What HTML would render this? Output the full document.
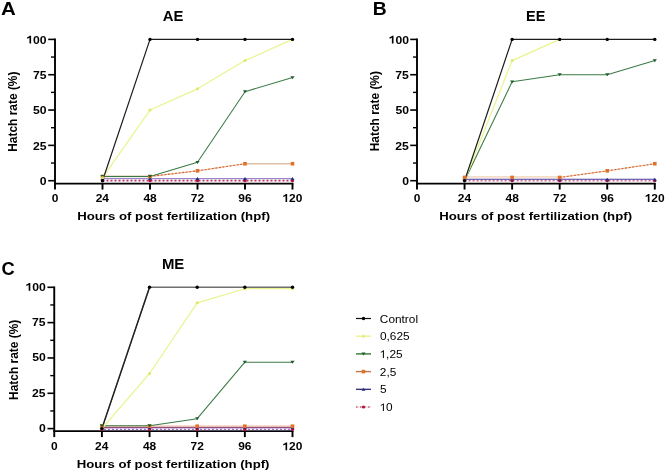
<!DOCTYPE html>
<html><head><meta charset="utf-8"><style>
html,body{margin:0;padding:0;background:#fff;}
body{width:666px;height:472px;overflow:hidden;}
svg{display:block;will-change:transform;filter:blur(0.35px);font-family:"Liberation Sans",sans-serif;}
</style></head><body>
<svg width="666" height="472" viewBox="0 0 666 472">
<rect width="666" height="472" fill="#fff"/>
<line x1="55.00" y1="38.60" x2="55.00" y2="189.55" stroke="#000" stroke-width="1.9" />
<line x1="54.05" y1="183.55" x2="293.45" y2="183.55" stroke="#000" stroke-width="1.65" />
<line x1="102.50" y1="183.55" x2="102.50" y2="189.55" stroke="#000" stroke-width="1.9" />
<line x1="150.00" y1="183.55" x2="150.00" y2="189.55" stroke="#000" stroke-width="1.9" />
<line x1="197.50" y1="183.55" x2="197.50" y2="189.55" stroke="#000" stroke-width="1.9" />
<line x1="245.00" y1="183.55" x2="245.00" y2="189.55" stroke="#000" stroke-width="1.9" />
<line x1="292.50" y1="183.55" x2="292.50" y2="189.55" stroke="#000" stroke-width="1.9" />
<line x1="48.20" y1="180.70" x2="55.00" y2="180.70" stroke="#000" stroke-width="1.6" />
<line x1="48.20" y1="145.38" x2="55.00" y2="145.38" stroke="#000" stroke-width="1.6" />
<line x1="48.20" y1="110.05" x2="55.00" y2="110.05" stroke="#000" stroke-width="1.6" />
<line x1="48.20" y1="74.72" x2="55.00" y2="74.72" stroke="#000" stroke-width="1.6" />
<line x1="48.20" y1="39.40" x2="55.00" y2="39.40" stroke="#000" stroke-width="1.6" />
<line x1="51.00" y1="163.04" x2="55.00" y2="163.04" stroke="#000" stroke-width="1.4" />
<line x1="51.00" y1="127.71" x2="55.00" y2="127.71" stroke="#000" stroke-width="1.4" />
<line x1="51.00" y1="92.39" x2="55.00" y2="92.39" stroke="#000" stroke-width="1.4" />
<line x1="51.00" y1="57.06" x2="55.00" y2="57.06" stroke="#000" stroke-width="1.4" />
<text transform="translate(39.81,184.86) scale(1.06,1)" font-size="11.5" font-weight="bold" fill="#000">0</text>
<text transform="translate(32.89,149.53) scale(1.06,1)" font-size="11.5" font-weight="bold" fill="#000">25</text>
<text transform="translate(33.03,114.21) scale(1.06,1)" font-size="11.5" font-weight="bold" fill="#000">50</text>
<text transform="translate(32.89,78.82) scale(1.06,1)" font-size="11.5" font-weight="bold" fill="#000">75</text>
<g transform="translate(26.25,43.56) scale(1.06,1)" fill="#000"><text font-size="11.5" font-weight="bold"> 00</text><path d="M541,0L815,0L815,1409L593,1409Q530,1250 150,1125L150,877Q380,950 541,1048Z" transform="translate(0.000,0) scale(0.00562,-0.00562)"/></g>
<text transform="translate(51.67,201.89) scale(1.06,1)" font-size="11.3" font-weight="bold" fill="#000">0</text>
<text transform="translate(95.67,201.89) scale(1.06,1)" font-size="11.3" font-weight="bold" fill="#000">24</text>
<text transform="translate(143.42,201.89) scale(1.06,1)" font-size="11.3" font-weight="bold" fill="#000">48</text>
<text transform="translate(190.83,201.89) scale(1.06,1)" font-size="11.3" font-weight="bold" fill="#000">72</text>
<text transform="translate(238.35,201.89) scale(1.06,1)" font-size="11.3" font-weight="bold" fill="#000">96</text>
<g transform="translate(282.38,201.89) scale(1.06,1)" fill="#000"><text font-size="11.3" font-weight="bold"> 20</text><path d="M541,0L815,0L815,1409L593,1409Q530,1250 150,1125L150,877Q380,950 541,1048Z" transform="translate(0.000,0) scale(0.00552,-0.00552)"/></g>
<text transform="translate(0.97,14.50) scale(1.12,1)" font-size="18.3" font-weight="bold" fill="#000">A</text>
<text transform="translate(162.71,21.00) scale(1.02,1)" font-size="14.6" font-weight="bold" fill="#000">AE</text>
<text transform="translate(17.46,151.79) scale(1.09,1) rotate(-90)" font-size="11.95" font-weight="bold">Hatch rate (%)</text>
<text transform="translate(77.18,219.90) scale(1.139,1)" font-size="11.6" font-weight="bold" fill="#000">Hours of post fertilization (hpf)</text>
<polyline points="102.50,180.70 150.00,180.70 197.50,180.70 245.00,180.70 292.50,180.70" fill="none" stroke="#ffffff" stroke-width="1.6" stroke-linejoin="round"/>
<polyline points="102.50,180.70 150.00,180.70 197.50,180.70 245.00,180.70 292.50,180.70" fill="none" stroke="#b83060" stroke-width="1.8" stroke-dasharray="2,2"/>
<polyline points="102.50,178.58 150.00,178.58 197.50,178.58 245.00,178.58 292.50,178.58" fill="none" stroke="#9c86c8" stroke-width="1.3" stroke-linejoin="round"/>
<line x1="102.50" y1="176.46" x2="150.00" y2="176.46" stroke="#dcc0a6" stroke-width="1.7" />
<line x1="150.00" y1="176.46" x2="197.50" y2="170.81" stroke="#f2c4a4" stroke-width="1.2" />
<line x1="150.00" y1="176.46" x2="197.50" y2="170.81" stroke="#cc6636" stroke-width="1.1" stroke-dasharray="2,1.6"/>
<line x1="197.50" y1="170.81" x2="245.00" y2="163.74" stroke="#f2c4a4" stroke-width="1.2" />
<line x1="197.50" y1="170.81" x2="245.00" y2="163.74" stroke="#cc6636" stroke-width="1.1" stroke-dasharray="2,1.6"/>
<line x1="245.00" y1="163.74" x2="292.50" y2="163.74" stroke="#dcc0a6" stroke-width="1.7" />
<polyline points="102.50,176.46 150.00,176.46 197.50,162.33 245.00,91.68 292.50,77.55" fill="none" stroke="#3b7a46" stroke-width="1.05" stroke-linejoin="round"/>
<polyline points="102.50,177.87 150.00,110.05 197.50,88.85 245.00,60.59 292.50,39.40" fill="none" stroke="#eaf48e" stroke-width="1.2" stroke-linejoin="round"/>
<polyline points="102.50,180.70 150.00,39.40 197.50,39.40 245.00,39.40 292.50,39.40" fill="none" stroke="#1c1c1c" stroke-width="1.2" stroke-linejoin="round"/>
<circle cx="102.50" cy="180.70" r="1.6" fill="#b0103a"/>
<circle cx="150.00" cy="180.70" r="1.6" fill="#b0103a"/>
<circle cx="197.50" cy="180.70" r="1.6" fill="#b0103a"/>
<circle cx="245.00" cy="180.70" r="1.6" fill="#b0103a"/>
<circle cx="292.50" cy="180.70" r="1.6" fill="#b0103a"/>
<path d="M100.50,179.98h4l-2,-3z" fill="#2a2a80"/>
<path d="M148.00,179.98h4l-2,-3z" fill="#2a2a80"/>
<path d="M195.50,179.98h4l-2,-3z" fill="#2a2a80"/>
<path d="M243.00,179.98h4l-2,-3z" fill="#2a2a80"/>
<path d="M290.50,179.98h4l-2,-3z" fill="#2a2a80"/>
<rect x="100.70" y="174.66" width="3.6" height="3.6" fill="#e0702a"/>
<rect x="148.20" y="174.66" width="3.6" height="3.6" fill="#e0702a"/>
<rect x="195.70" y="169.01" width="3.6" height="3.6" fill="#e0702a"/>
<rect x="243.20" y="161.94" width="3.6" height="3.6" fill="#e0702a"/>
<rect x="290.70" y="161.94" width="3.6" height="3.6" fill="#e0702a"/>
<path d="M100.40,175.06h4.2l-2.1,3z" fill="#1f5f2a"/>
<path d="M147.90,175.06h4.2l-2.1,3z" fill="#1f5f2a"/>
<path d="M195.40,160.93h4.2l-2.1,3z" fill="#1f5f2a"/>
<path d="M242.90,90.28h4.2l-2.1,3z" fill="#1f5f2a"/>
<path d="M290.40,76.15h4.2l-2.1,3z" fill="#1f5f2a"/>
<circle cx="102.50" cy="177.87" r="1.5" fill="#e0e766"/>
<circle cx="150.00" cy="110.05" r="1.5" fill="#e0e766"/>
<circle cx="197.50" cy="88.85" r="1.5" fill="#e0e766"/>
<circle cx="245.00" cy="60.59" r="1.5" fill="#e0e766"/>
<circle cx="292.50" cy="39.40" r="1.5" fill="#e0e766"/>
<circle cx="102.50" cy="180.70" r="1.7" fill="#000"/>
<circle cx="150.00" cy="39.40" r="1.7" fill="#000"/>
<circle cx="197.50" cy="39.40" r="1.7" fill="#000"/>
<circle cx="245.00" cy="39.40" r="1.7" fill="#000"/>
<circle cx="292.50" cy="39.40" r="1.7" fill="#000"/>
<line x1="417.00" y1="38.60" x2="417.00" y2="189.55" stroke="#000" stroke-width="1.9" />
<line x1="416.05" y1="183.55" x2="655.75" y2="183.55" stroke="#000" stroke-width="1.65" />
<line x1="464.56" y1="183.55" x2="464.56" y2="189.55" stroke="#000" stroke-width="1.9" />
<line x1="512.12" y1="183.55" x2="512.12" y2="189.55" stroke="#000" stroke-width="1.9" />
<line x1="559.68" y1="183.55" x2="559.68" y2="189.55" stroke="#000" stroke-width="1.9" />
<line x1="607.24" y1="183.55" x2="607.24" y2="189.55" stroke="#000" stroke-width="1.9" />
<line x1="654.80" y1="183.55" x2="654.80" y2="189.55" stroke="#000" stroke-width="1.9" />
<line x1="410.20" y1="180.70" x2="417.00" y2="180.70" stroke="#000" stroke-width="1.6" />
<line x1="410.20" y1="145.38" x2="417.00" y2="145.38" stroke="#000" stroke-width="1.6" />
<line x1="410.20" y1="110.05" x2="417.00" y2="110.05" stroke="#000" stroke-width="1.6" />
<line x1="410.20" y1="74.72" x2="417.00" y2="74.72" stroke="#000" stroke-width="1.6" />
<line x1="410.20" y1="39.40" x2="417.00" y2="39.40" stroke="#000" stroke-width="1.6" />
<line x1="413.00" y1="163.04" x2="417.00" y2="163.04" stroke="#000" stroke-width="1.4" />
<line x1="413.00" y1="127.71" x2="417.00" y2="127.71" stroke="#000" stroke-width="1.4" />
<line x1="413.00" y1="92.39" x2="417.00" y2="92.39" stroke="#000" stroke-width="1.4" />
<line x1="413.00" y1="57.06" x2="417.00" y2="57.06" stroke="#000" stroke-width="1.4" />
<text transform="translate(402.21,184.86) scale(1.06,1)" font-size="11.5" font-weight="bold" fill="#000">0</text>
<text transform="translate(395.29,149.53) scale(1.06,1)" font-size="11.5" font-weight="bold" fill="#000">25</text>
<text transform="translate(395.43,114.21) scale(1.06,1)" font-size="11.5" font-weight="bold" fill="#000">50</text>
<text transform="translate(395.29,78.82) scale(1.06,1)" font-size="11.5" font-weight="bold" fill="#000">75</text>
<g transform="translate(388.65,43.56) scale(1.06,1)" fill="#000"><text font-size="11.5" font-weight="bold"> 00</text><path d="M541,0L815,0L815,1409L593,1409Q530,1250 150,1125L150,877Q380,950 541,1048Z" transform="translate(0.000,0) scale(0.00562,-0.00562)"/></g>
<text transform="translate(413.67,201.89) scale(1.06,1)" font-size="11.3" font-weight="bold" fill="#000">0</text>
<text transform="translate(457.73,201.89) scale(1.06,1)" font-size="11.3" font-weight="bold" fill="#000">24</text>
<text transform="translate(505.54,201.89) scale(1.06,1)" font-size="11.3" font-weight="bold" fill="#000">48</text>
<text transform="translate(553.01,201.89) scale(1.06,1)" font-size="11.3" font-weight="bold" fill="#000">72</text>
<text transform="translate(600.59,201.89) scale(1.06,1)" font-size="11.3" font-weight="bold" fill="#000">96</text>
<g transform="translate(644.68,201.89) scale(1.06,1)" fill="#000"><text font-size="11.3" font-weight="bold"> 20</text><path d="M541,0L815,0L815,1409L593,1409Q530,1250 150,1125L150,877Q380,950 541,1048Z" transform="translate(0.000,0) scale(0.00552,-0.00552)"/></g>
<text transform="translate(372.73,14.70) scale(1.055,1)" font-size="18.3" font-weight="bold" fill="#000">B</text>
<text transform="translate(526.05,20.90) scale(0.99,1)" font-size="14.6" font-weight="bold" fill="#000">EE</text>
<text transform="translate(379.46,151.29) scale(1.09,1) rotate(-90)" font-size="11.95" font-weight="bold">Hatch rate (%)</text>
<text transform="translate(439.18,219.90) scale(1.139,1)" font-size="11.6" font-weight="bold" fill="#000">Hours of post fertilization (hpf)</text>
<polyline points="464.56,180.70 512.12,180.70 559.68,180.70 607.24,180.70 654.80,180.70" fill="none" stroke="#ffffff" stroke-width="1.6" stroke-linejoin="round"/>
<polyline points="464.56,180.70 512.12,180.70 559.68,180.70 607.24,180.70 654.80,180.70" fill="none" stroke="#d06a8c" stroke-width="1.8" stroke-dasharray="2,2"/>
<polyline points="464.56,179.29 512.12,179.29 559.68,179.29 607.24,179.29 654.80,179.29" fill="none" stroke="#4a3aa0" stroke-width="1.1" stroke-linejoin="round"/>
<line x1="464.56" y1="176.85" x2="512.12" y2="176.85" stroke="#f6dcc4" stroke-width="1.6" />
<line x1="512.12" y1="176.85" x2="559.68" y2="176.85" stroke="#f6dcc4" stroke-width="1.6" />
<line x1="559.68" y1="177.45" x2="607.24" y2="170.81" stroke="#f2c4a4" stroke-width="1.2" />
<line x1="559.68" y1="177.45" x2="607.24" y2="170.81" stroke="#cc6636" stroke-width="1.1" stroke-dasharray="2,1.6"/>
<line x1="607.24" y1="170.81" x2="654.80" y2="163.74" stroke="#f2c4a4" stroke-width="1.2" />
<line x1="607.24" y1="170.81" x2="654.80" y2="163.74" stroke="#cc6636" stroke-width="1.1" stroke-dasharray="2,1.6"/>
<polyline points="464.56,180.70 512.12,81.79 559.68,74.72 607.24,74.72 654.80,60.59" fill="none" stroke="#3b7a46" stroke-width="1.05" stroke-linejoin="round"/>
<polyline points="464.56,180.70 512.12,60.59 559.68,39.40" fill="none" stroke="#eaf48e" stroke-width="1.2" stroke-linejoin="round"/>
<polyline points="464.56,180.70 512.12,39.40 559.68,39.40 607.24,39.40 654.80,39.40" fill="none" stroke="#1c1c1c" stroke-width="1.2" stroke-linejoin="round"/>
<circle cx="464.56" cy="180.70" r="1.6" fill="#b0103a"/>
<circle cx="512.12" cy="180.70" r="1.6" fill="#b0103a"/>
<circle cx="559.68" cy="180.70" r="1.6" fill="#b0103a"/>
<circle cx="607.24" cy="180.70" r="1.6" fill="#b0103a"/>
<circle cx="654.80" cy="180.70" r="1.6" fill="#b0103a"/>
<path d="M462.56,180.69h4l-2,-3z" fill="#2a2a80"/>
<path d="M510.12,180.69h4l-2,-3z" fill="#2a2a80"/>
<path d="M557.68,180.69h4l-2,-3z" fill="#2a2a80"/>
<path d="M605.24,180.69h4l-2,-3z" fill="#2a2a80"/>
<path d="M652.80,180.69h4l-2,-3z" fill="#2a2a80"/>
<rect x="462.76" y="175.65" width="3.6" height="3.6" fill="#e0702a"/>
<rect x="510.32" y="175.65" width="3.6" height="3.6" fill="#e0702a"/>
<rect x="557.88" y="175.65" width="3.6" height="3.6" fill="#e0702a"/>
<rect x="605.44" y="169.01" width="3.6" height="3.6" fill="#e0702a"/>
<rect x="653.00" y="161.94" width="3.6" height="3.6" fill="#e0702a"/>
<path d="M462.46,179.30h4.2l-2.1,3z" fill="#1f5f2a"/>
<path d="M510.02,80.39h4.2l-2.1,3z" fill="#1f5f2a"/>
<path d="M557.58,73.32h4.2l-2.1,3z" fill="#1f5f2a"/>
<path d="M605.14,73.32h4.2l-2.1,3z" fill="#1f5f2a"/>
<path d="M652.70,59.19h4.2l-2.1,3z" fill="#1f5f2a"/>
<circle cx="464.56" cy="180.70" r="1.5" fill="#e0e766"/>
<circle cx="512.12" cy="60.59" r="1.5" fill="#e0e766"/>
<circle cx="559.68" cy="39.40" r="1.5" fill="#e0e766"/>
<circle cx="464.56" cy="180.70" r="1.7" fill="#000"/>
<circle cx="512.12" cy="39.40" r="1.7" fill="#000"/>
<circle cx="559.68" cy="39.40" r="1.7" fill="#000"/>
<circle cx="607.24" cy="39.40" r="1.7" fill="#000"/>
<circle cx="654.80" cy="39.40" r="1.7" fill="#000"/>
<line x1="54.25" y1="286.50" x2="54.25" y2="437.10" stroke="#000" stroke-width="1.9" />
<line x1="53.30" y1="431.10" x2="293.45" y2="431.10" stroke="#000" stroke-width="1.65" />
<line x1="101.90" y1="431.10" x2="101.90" y2="437.10" stroke="#000" stroke-width="1.9" />
<line x1="149.55" y1="431.10" x2="149.55" y2="437.10" stroke="#000" stroke-width="1.9" />
<line x1="197.20" y1="431.10" x2="197.20" y2="437.10" stroke="#000" stroke-width="1.9" />
<line x1="244.85" y1="431.10" x2="244.85" y2="437.10" stroke="#000" stroke-width="1.9" />
<line x1="292.50" y1="431.10" x2="292.50" y2="437.10" stroke="#000" stroke-width="1.9" />
<line x1="47.45" y1="428.60" x2="54.25" y2="428.60" stroke="#000" stroke-width="1.6" />
<line x1="47.45" y1="393.28" x2="54.25" y2="393.28" stroke="#000" stroke-width="1.6" />
<line x1="47.45" y1="357.95" x2="54.25" y2="357.95" stroke="#000" stroke-width="1.6" />
<line x1="47.45" y1="322.62" x2="54.25" y2="322.62" stroke="#000" stroke-width="1.6" />
<line x1="47.45" y1="287.30" x2="54.25" y2="287.30" stroke="#000" stroke-width="1.6" />
<line x1="50.25" y1="410.94" x2="54.25" y2="410.94" stroke="#000" stroke-width="1.4" />
<line x1="50.25" y1="375.61" x2="54.25" y2="375.61" stroke="#000" stroke-width="1.4" />
<line x1="50.25" y1="340.29" x2="54.25" y2="340.29" stroke="#000" stroke-width="1.4" />
<line x1="50.25" y1="304.96" x2="54.25" y2="304.96" stroke="#000" stroke-width="1.4" />
<text transform="translate(39.01,432.11) scale(1.06,1)" font-size="11.5" font-weight="bold" fill="#000">0</text>
<text transform="translate(32.09,396.78) scale(1.06,1)" font-size="11.5" font-weight="bold" fill="#000">25</text>
<text transform="translate(32.23,361.46) scale(1.06,1)" font-size="11.5" font-weight="bold" fill="#000">50</text>
<text transform="translate(32.09,326.07) scale(1.06,1)" font-size="11.5" font-weight="bold" fill="#000">75</text>
<g transform="translate(25.45,290.81) scale(1.06,1)" fill="#000"><text font-size="11.5" font-weight="bold"> 00</text><path d="M541,0L815,0L815,1409L593,1409Q530,1250 150,1125L150,877Q380,950 541,1048Z" transform="translate(0.000,0) scale(0.00562,-0.00562)"/></g>
<text transform="translate(50.92,450.29) scale(1.06,1)" font-size="11.3" font-weight="bold" fill="#000">0</text>
<text transform="translate(95.07,450.29) scale(1.06,1)" font-size="11.3" font-weight="bold" fill="#000">24</text>
<text transform="translate(142.97,450.29) scale(1.06,1)" font-size="11.3" font-weight="bold" fill="#000">48</text>
<text transform="translate(190.53,450.29) scale(1.06,1)" font-size="11.3" font-weight="bold" fill="#000">72</text>
<text transform="translate(238.20,450.29) scale(1.06,1)" font-size="11.3" font-weight="bold" fill="#000">96</text>
<g transform="translate(282.38,450.29) scale(1.06,1)" fill="#000"><text font-size="11.3" font-weight="bold"> 20</text><path d="M541,0L815,0L815,1409L593,1409Q530,1250 150,1125L150,877Q380,950 541,1048Z" transform="translate(0.000,0) scale(0.00552,-0.00552)"/></g>
<text transform="translate(1.43,275.02) scale(1.0,1)" font-size="18.3" font-weight="bold" fill="#000">C</text>
<text transform="translate(161.92,268.50) scale(1.02,1)" font-size="14.6" font-weight="bold" fill="#000">ME</text>
<text transform="translate(17.76,399.99) scale(1.09,1) rotate(-90)" font-size="11.95" font-weight="bold">Hatch rate (%)</text>
<text transform="translate(76.63,467.90) scale(1.139,1)" font-size="11.6" font-weight="bold" fill="#000">Hours of post fertilization (hpf)</text>
<polyline points="101.90,429.31 149.55,429.31 197.20,429.31 244.85,429.31 292.50,429.31" fill="none" stroke="#9a6cc4" stroke-width="1.8" stroke-linejoin="round"/>
<polyline points="101.90,429.31 149.55,429.31 197.20,429.31 244.85,429.31 292.50,429.31" fill="none" stroke="#ffffff" stroke-width="1.2" stroke-dasharray="2,2"/>
<polyline points="101.90,427.33 149.55,427.33 197.20,427.33 244.85,427.33 292.50,427.33" fill="none" stroke="#7a2a60" stroke-width="1.0" stroke-linejoin="round"/>
<line x1="101.90" y1="426.20" x2="149.55" y2="426.20" stroke="#f0b8a8" stroke-width="1.3" />
<line x1="149.55" y1="426.20" x2="197.20" y2="426.20" stroke="#f0b8a8" stroke-width="1.3" />
<line x1="197.20" y1="426.20" x2="244.85" y2="426.20" stroke="#f0b8a8" stroke-width="1.3" />
<line x1="244.85" y1="426.20" x2="292.50" y2="426.20" stroke="#f0b8a8" stroke-width="1.3" />
<polyline points="101.90,425.77 149.55,425.77 197.20,418.71 244.85,362.19 292.50,362.19" fill="none" stroke="#3b7a46" stroke-width="1.05" stroke-linejoin="round"/>
<polyline points="101.90,428.60 149.55,373.49 197.20,302.84 244.85,288.71 292.50,288.71" fill="none" stroke="#eaf48e" stroke-width="1.2" stroke-linejoin="round"/>
<polyline points="101.90,428.60 149.55,287.30 197.20,287.30 244.85,287.30 292.50,287.30" fill="none" stroke="#6e6e6e" stroke-width="1.5" stroke-linejoin="round"/>
<line x1="101.90" y1="428.60" x2="149.55" y2="287.30" stroke="#1c1c1c" stroke-width="1.2" />
<circle cx="101.90" cy="429.31" r="1.6" fill="#b0103a"/>
<circle cx="149.55" cy="429.31" r="1.6" fill="#b0103a"/>
<circle cx="197.20" cy="429.31" r="1.6" fill="#b0103a"/>
<circle cx="244.85" cy="429.31" r="1.6" fill="#b0103a"/>
<circle cx="292.50" cy="429.31" r="1.6" fill="#b0103a"/>
<path d="M99.90,428.73h4l-2,-3z" fill="#2a2a80"/>
<path d="M147.55,428.73h4l-2,-3z" fill="#2a2a80"/>
<path d="M195.20,428.73h4l-2,-3z" fill="#2a2a80"/>
<path d="M242.85,428.73h4l-2,-3z" fill="#2a2a80"/>
<path d="M290.50,428.73h4l-2,-3z" fill="#2a2a80"/>
<rect x="100.10" y="424.40" width="3.6" height="3.6" fill="#e0702a"/>
<rect x="147.75" y="424.40" width="3.6" height="3.6" fill="#e0702a"/>
<rect x="195.40" y="424.40" width="3.6" height="3.6" fill="#e0702a"/>
<rect x="243.05" y="424.40" width="3.6" height="3.6" fill="#e0702a"/>
<rect x="290.70" y="424.40" width="3.6" height="3.6" fill="#e0702a"/>
<path d="M99.80,424.37h4.2l-2.1,3z" fill="#1f5f2a"/>
<path d="M147.45,424.37h4.2l-2.1,3z" fill="#1f5f2a"/>
<path d="M195.10,417.31h4.2l-2.1,3z" fill="#1f5f2a"/>
<path d="M242.75,360.79h4.2l-2.1,3z" fill="#1f5f2a"/>
<path d="M290.40,360.79h4.2l-2.1,3z" fill="#1f5f2a"/>
<circle cx="101.90" cy="428.60" r="1.5" fill="#e0e766"/>
<circle cx="149.55" cy="373.49" r="1.5" fill="#e0e766"/>
<circle cx="197.20" cy="302.84" r="1.5" fill="#e0e766"/>
<circle cx="244.85" cy="288.71" r="1.5" fill="#e0e766"/>
<circle cx="292.50" cy="288.71" r="1.5" fill="#e0e766"/>
<circle cx="101.90" cy="428.60" r="1.7" fill="#000"/>
<circle cx="149.55" cy="287.30" r="1.7" fill="#000"/>
<circle cx="197.20" cy="287.30" r="1.7" fill="#000"/>
<circle cx="244.85" cy="287.30" r="1.7" fill="#000"/>
<circle cx="292.50" cy="287.30" r="1.7" fill="#000"/>
<polyline points="356.00,318.50 371.00,318.50" fill="none" stroke="#111" stroke-width="1.2" stroke-linejoin="round"/>
<circle cx="363.50" cy="318.50" r="1.7" fill="#000"/>
<text transform="translate(379.81,322.60) scale(1.06,1)" font-size="11.2" font-weight="normal" fill="#000">Control</text>
<polyline points="356.00,336.20 371.00,336.20" fill="none" stroke="#eef49a" stroke-width="1.6" stroke-linejoin="round"/>
<circle cx="363.50" cy="336.20" r="1.5" fill="#e4ea80"/>
<text transform="translate(379.93,340.30) scale(1.06,1)" font-size="11.2" font-weight="normal" fill="#000">0,625</text>
<polyline points="356.00,353.90 371.00,353.90" fill="none" stroke="#4a8a4a" stroke-width="1.6" stroke-linejoin="round"/>
<path d="M361.40,352.50h4.2l-2.1,3z" fill="#1f5f2a"/>
<g transform="translate(379.50,358.00) scale(1.06,1)" fill="#000"><text font-size="11.2" font-weight="normal"> ,25</text><path d="M583,0L759,0L759,1409L645,1409Q580,1280 223,1104L223,941Q440,1040 583,1151Z" transform="translate(0.000,0) scale(0.00547,-0.00547)"/></g>
<line x1="356.00" y1="371.60" x2="371.00" y2="371.60" stroke="#c07850" stroke-width="1.4" />
<rect x="361.70" y="369.80" width="3.6" height="3.6" fill="#e0702a"/>
<text transform="translate(379.81,375.70) scale(1.06,1)" font-size="11.2" font-weight="normal" fill="#000">2,5</text>
<polyline points="356.00,389.30 371.00,389.30" fill="none" stroke="#2c2c78" stroke-width="1.3" stroke-linejoin="round"/>
<path d="M361.50,390.70h4l-2,-3z" fill="#2a2a80"/>
<text transform="translate(379.93,393.40) scale(1.06,1)" font-size="11.2" font-weight="normal" fill="#000">5</text>
<polyline points="356.00,407.00 371.00,407.00" fill="none" stroke="#f4e4e8" stroke-width="1.6" stroke-linejoin="round"/>
<polyline points="356.00,407.00 371.00,407.00" fill="none" stroke="#c86a86" stroke-width="1.6" stroke-dasharray="1.6,2.4"/>
<circle cx="363.50" cy="407.00" r="1.6" fill="#b0103a"/>
<g transform="translate(379.50,411.10) scale(1.06,1)" fill="#000"><text font-size="11.2" font-weight="normal"> 0</text><path d="M583,0L759,0L759,1409L645,1409Q580,1280 223,1104L223,941Q440,1040 583,1151Z" transform="translate(0.000,0) scale(0.00547,-0.00547)"/></g>
</svg>
</body></html>
